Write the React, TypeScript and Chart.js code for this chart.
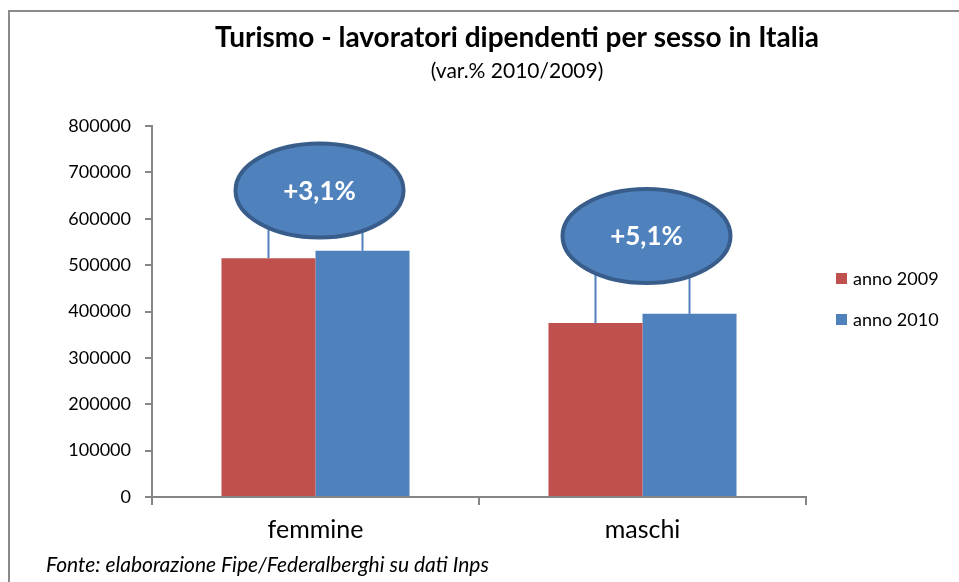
import { useEffect, useRef } from 'react';
import { Chart, registerables } from 'chart.js';

Chart.register(...registerables);

// ---- data ----
const categories = ['femmine', 'maschi'];
const seriesLabels = ['anno 2009', 'anno 2010'];
const anno2009 = [515000, 375000];
const anno2010 = [531000, 395000];
const changeLabels = ['+3,1%', '+5,1%'];
const changeBubbleAt = [661000, 563000];
const yMin = 0;
const yMax = 800000;
const yStep = 100000;

const TITLE = 'Turismo - lavoratori dipendenti per sesso in Italia';
const SUBTITLE = '(var.% 2010/2009)';
const SOURCE = 'Fonte: elaborazione Fipe/Federalberghi su dati Inps';

// ---- styles ----
const RED = '#C0504D';
const BLUE = '#4F81BD';
const DARK_BLUE = '#385D8A';
const AXIS = '#868686';
const FONT = 'Lato, "Open Sans", sans-serif';

const decorPlugin = {
  id: 'decor',
  afterDatasetsDraw(chart: any) {
    const { ctx, scales } = chart;
    const m0 = chart.getDatasetMeta(0);
    const m1 = chart.getDatasetMeta(1);
    categories.forEach((_, i) => {
      const cx = scales.x.getPixelForValue(i) + 4;
      const cy = scales.y.getPixelForValue(changeBubbleAt[i]);
      const bars = [m0.data[i], m1.data[i]];
      ctx.save();
      ctx.strokeStyle = BLUE;
      ctx.lineWidth = 2;
      bars.forEach((b: any) => {
        ctx.beginPath();
        ctx.moveTo(b.x, cy);
        ctx.lineTo(b.x, b.y);
        ctx.stroke();
      });
      ctx.beginPath();
      ctx.ellipse(cx, cy, 84, 47, 0, 0, Math.PI * 2);
      ctx.fillStyle = BLUE;
      ctx.fill();
      ctx.lineWidth = 4;
      ctx.strokeStyle = DARK_BLUE;
      ctx.stroke();
      ctx.fillStyle = '#ffffff';
      ctx.font = `bold 26px ${FONT}`;
      ctx.textAlign = 'center';
      ctx.textBaseline = 'middle';
      ctx.fillText(changeLabels[i], cx, cy + 1);
      ctx.restore();
    });
  },
  afterDraw(chart: any) {
    const { ctx } = chart;
    ctx.save();
    // frame
    ctx.strokeStyle = '#8A8A8A';
    ctx.lineWidth = 2;
    ctx.beginPath();
    ctx.moveTo(9, 582);
    ctx.lineTo(9, 11);
    ctx.lineTo(959, 11);
    ctx.stroke();
    // title
    ctx.fillStyle = '#000000';
    ctx.textAlign = 'center';
    ctx.textBaseline = 'alphabetic';
    ctx.font = `bold 28px ${FONT}`;
    ctx.fillText(TITLE, 517, 47);
    ctx.font = `21px ${FONT}`;
    ctx.fillText(SUBTITLE, 517, 78);
    // source
    ctx.textAlign = 'left';
    ctx.font = `italic 21px ${FONT}`;
    ctx.fillText(SOURCE, 46, 572);
    // legend
    const colors = [RED, BLUE];
    ctx.font = `18px ${FONT}`;
    ctx.textBaseline = 'middle';
    seriesLabels.forEach((lab, k) => {
      const y = 279 + k * 41;
      ctx.fillStyle = colors[k];
      ctx.fillRect(836, y - 6, 11, 11);
      ctx.fillStyle = '#000000';
      ctx.fillText(lab, 853, y);
    });
    ctx.restore();
  },
};

export default function App() {
  const ref = useRef<HTMLCanvasElement>(null);
  useEffect(() => {
    if (!ref.current) return;
    const chart = new Chart(ref.current, {
      type: 'bar',
      data: {
        labels: categories,
        datasets: [
          { label: seriesLabels[0], data: anno2009, backgroundColor: RED },
          { label: seriesLabels[1], data: anno2010, backgroundColor: BLUE },
        ],
      },
      options: {
        animation: false,
        responsive: true,
        maintainAspectRatio: false,
        layout: { padding: { top: 126, right: 153, left: 0, bottom: 0 } },
        datasets: { bar: { categoryPercentage: 0.575, barPercentage: 1 } },
        plugins: {
          legend: { display: false },
          title: { display: false },
          tooltip: { enabled: false },
        },
        scales: {
          x: {
            grid: {
              display: true,
              drawOnChartArea: false,
              offset: true,
              tickLength: 8,
              color: AXIS,
              lineWidth: 2,
            },
            border: { color: AXIS, width: 2 },
            ticks: { color: '#000', font: { family: FONT, size: 25 }, padding: 10 },
            afterFit(s: any) { s.height = 85; },
          },
          y: {
            min: yMin,
            max: yMax,
            grid: { drawOnChartArea: false, tickLength: 7, color: AXIS, lineWidth: 2 },
            border: { color: AXIS, width: 2 },
            ticks: {
              stepSize: yStep,
              color: '#000',
              font: { family: FONT, size: 18 },
              padding: 14,
              callback: (v: any) => String(v),
            },
            afterFit(s: any) { s.width = 152; },
          },
        },
      },
      plugins: [decorPlugin],
    });
    return () => chart.destroy();
  }, []);
  return (
    <div style={{ position: 'fixed', left: 0, top: 0, width: 959, height: 582, background: '#fff' }}>
      <canvas ref={ref} />
    </div>
  );
}
